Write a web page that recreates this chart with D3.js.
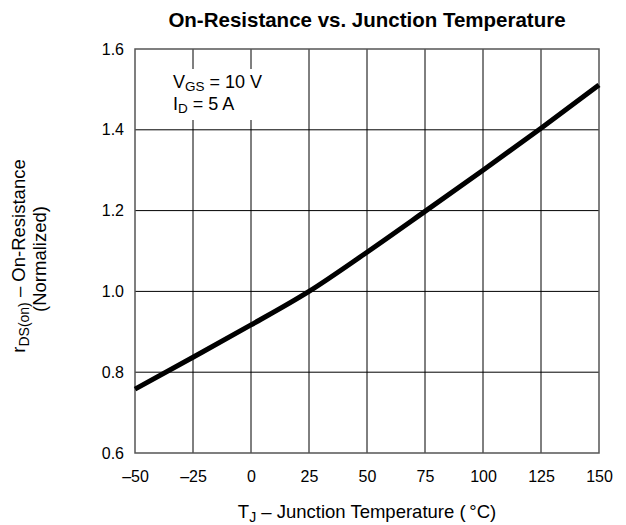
<!DOCTYPE html>
<html><head><meta charset="utf-8">
<script src="https://cdn.jsdelivr.net/npm/d3@7"></script>
<style>body{margin:0;background:#fff;} svg{display:block;font-family:"Liberation Sans",Arial,sans-serif;}</style>
</head><body>
<svg id="c" width="626" height="525"></svg>
<script>
const temps = [-50, -25, 0, 25, 50, 75, 100, 125, 150];
const rdsNorm = [0.758, 0.837, 0.917, 1.0, 1.097, 1.198, 1.300, 1.404, 1.511];
const xTicks = [-50, -25, 0, 25, 50, 75, 100, 125, 150];
const yTicks = [0.6, 0.8, 1.0, 1.2, 1.4, 1.6];

const svg = d3.select("#c");
const L = 135, R = 599, T = 49, B = 453;
const x = d3.scaleLinear().domain([-50, 150]).range([L, R]);
const y = d3.scaleLinear().domain([0.6, 1.6]).range([B, T]);

// grid
const g = svg.append("g");
g.selectAll(".vx").data(xTicks.slice(1, -1)).enter().append("line")
  .attr("x1", d => x(d)).attr("x2", d => x(d)).attr("y1", T).attr("y2", B)
  .attr("stroke", "#000").attr("stroke-width", 1);
g.selectAll(".hy").data(yTicks.slice(1, -1)).enter().append("line")
  .attr("x1", L).attr("x2", R).attr("y1", d => y(d)).attr("y2", d => y(d))
  .attr("stroke", "#000").attr("stroke-width", 1);

// white box behind annotation
svg.append("rect").attr("x", 168).attr("y", 69).attr("width", 104).attr("height", 51).attr("fill", "#fff");

// border
svg.append("rect").attr("x", L).attr("y", T).attr("width", R - L).attr("height", B - T)
  .attr("fill", "none").attr("stroke", "#555").attr("stroke-width", 1.5);

// curve
const line = d3.line().x((d, i) => x(temps[i])).y(d => y(d)).curve(d3.curveMonotoneX);
svg.append("path").datum(rdsNorm).attr("d", line).attr("fill", "none")
  .attr("stroke", "#000").attr("stroke-width", 5).attr("stroke-linejoin", "round");

// axes
const xAxis = d3.axisBottom(x).tickValues(xTicks).tickSize(0).tickPadding(18)
  .tickFormat(d => d < 0 ? "\u2013" + Math.abs(d) : d);
svg.append("g").attr("transform", `translate(0,${B})`).call(xAxis)
  .call(s => s.select(".domain").remove())
  .selectAll("text").attr("font-size", 16).attr("font-family", "Liberation Sans, Arial, sans-serif").attr("fill", "#000");
const yAxis = d3.axisLeft(y).tickValues(yTicks).tickSize(0).tickPadding(11)
  .tickFormat(d3.format(".1f"));
svg.append("g").attr("transform", `translate(${L},0)`).call(yAxis)
  .call(s => s.select(".domain").remove())
  .selectAll("text").attr("font-size", 16).attr("font-family", "Liberation Sans, Arial, sans-serif").attr("fill", "#000");

// title
svg.append("text").attr("x", 367).attr("y", 27).attr("text-anchor", "middle")
  .attr("font-size", 20.5).attr("font-weight", "bold")
  .text("On-Resistance vs. Junction Temperature");

// annotation
const a1 = svg.append("text").attr("x", 173).attr("y", 88).attr("font-size", 18);
a1.append("tspan").text("V");
a1.append("tspan").attr("font-size", 13.5).attr("dy", 3).text("GS");
a1.append("tspan").attr("dy", -3).text(" = 10 V");
const a2 = svg.append("text").attr("x", 173).attr("y", 110).attr("font-size", 18);
a2.append("tspan").text("I");
a2.append("tspan").attr("font-size", 13.5).attr("dy", 3).text("D");
a2.append("tspan").attr("dy", -3).text(" = 5 A");

// x title
const xt = svg.append("text").attr("x", 367).attr("y", 518).attr("text-anchor", "middle").attr("font-size", 18.5);
xt.append("tspan").text("T");
xt.append("tspan").attr("font-size", 14).attr("dy", 4).text("J");
xt.append("tspan").attr("dy", -4).text(" \u2013 Junction Temperature (\u2009\u00B0C)");

// y title
const yt = svg.append("g").attr("transform", "translate(25,256) rotate(-90)");
const y1 = yt.append("text").attr("x", 0).attr("y", 0).attr("text-anchor", "middle").attr("font-size", 18.5);
y1.append("tspan").text("r");
y1.append("tspan").attr("font-size", 14).attr("dy", 4).text("DS(on)");
y1.append("tspan").attr("dy", -4).text(" \u2013 On-Resistance");
yt.append("text").attr("x", -3).attr("y", 21).attr("text-anchor", "middle").attr("font-size", 18.5).text("(Normalized)");
</script>
</body></html>
